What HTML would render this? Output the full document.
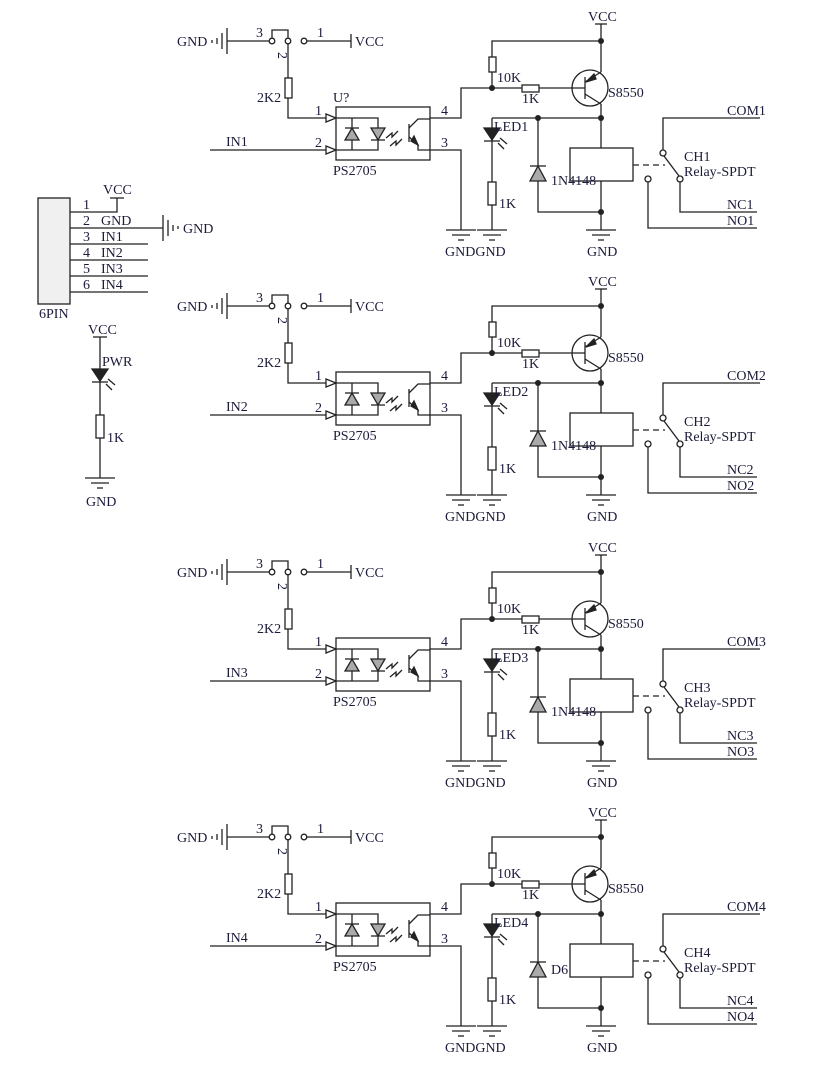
<!DOCTYPE html>
<html><head><meta charset="utf-8"><style>
html,body{margin:0;padding:0;background:#fff}
svg{display:block}
text{font-family:"Liberation Serif",serif;font-size:14px;fill:#1b1b3a}
</style></head><body>
<svg width="825" height="1084" viewBox="0 0 825 1084" xmlns="http://www.w3.org/2000/svg">
<defs>
<g id="gnd">
<line x1="-15" y1="0" x2="15" y2="0"/><line x1="-9" y1="5" x2="9" y2="5"/><line x1="-3" y1="10" x2="3" y2="10"/>
</g>
<g id="ch" stroke="#222" stroke-width="1.3" fill="none">
<line x1="227" y1="28" x2="227" y2="54"/><line x1="222" y1="33" x2="222" y2="49"/><line x1="217" y1="38" x2="217" y2="44"/>
<line x1="212" y1="40" x2="212" y2="43"/>
<line x1="227" y1="41" x2="269" y2="41"/>
<circle cx="272" cy="41" r="2.8"/><circle cx="288" cy="41" r="2.8"/><circle cx="304" cy="41" r="2.8"/>
<polyline points="272,38 272,30 288,30 288,38"/>
<line x1="307" y1="41" x2="351" y2="41"/><line x1="351" y1="34" x2="351" y2="48"/>
<line x1="288" y1="44" x2="288" y2="78"/>
<rect x="285" y="78" width="7" height="20" fill="#fff"/>
<polyline points="288,98 288,118 326,118"/>
<polygon points="326,114 336,118 326,122"/>
<line x1="210" y1="150" x2="326" y2="150"/>
<polygon points="326,146 336,150 326,154"/>
<rect x="336" y="107" width="94" height="53"/>
<polyline points="336,118 378,118 378,150 336,150"/>
<line x1="352" y1="118" x2="352" y2="150"/>
<polygon points="345,140 359,140 352,128" fill="#aaa"/><line x1="345" y1="128" x2="359" y2="128"/>
<polygon points="371,128 385,128 378,140" fill="#aaa"/><line x1="371" y1="140" x2="385" y2="140"/>
<polyline points="386,138 392,133 392,137 398,131"/><polyline points="390,146 396,141 396,145 402,139"/>
<line x1="409" y1="124" x2="409" y2="142"/>
<polyline points="409,128 418,119 430,119"/>
<polyline points="409,137 418,145 418,150 430,150"/>
<polygon points="411,141 418,145 414,136" fill="#222"/>
<polyline points="430,118 461,118 461,88 492,88"/>
<polyline points="430,150 461,150 461,230"/>
<line x1="601" y1="24" x2="601" y2="72"/><line x1="595" y1="24" x2="607" y2="24"/>
<polyline points="492,88 492,41 601,41"/>
<rect x="489" y="57" width="7" height="15" fill="#fff"/>
<line x1="492" y1="88" x2="522" y2="88"/><rect x="522" y="85" width="17" height="7" fill="#fff"/><line x1="539" y1="88" x2="585" y2="88"/>
<circle cx="590" cy="88" r="18"/>
<line x1="585" y1="77" x2="585" y2="99"/>
<line x1="585" y1="82" x2="601" y2="72"/><line x1="585" y1="94" x2="601" y2="104"/>
<polygon points="586,82 594,74 596,79" fill="#222"/>
<line x1="601" y1="104" x2="601" y2="148"/>
<line x1="492" y1="118" x2="601" y2="118"/>
<line x1="492" y1="118" x2="492" y2="182"/>
<polygon points="484,128 500,128 492,140" fill="#222"/><line x1="484" y1="141" x2="500" y2="141"/>
<line x1="498" y1="143" x2="504" y2="149"/><line x1="500" y1="138" x2="507" y2="144"/>
<rect x="488" y="182" width="8" height="23" fill="#fff"/>
<line x1="492" y1="205" x2="492" y2="230"/>
<polyline points="538,118 538,212 601,212"/>
<polygon points="530,181 546,181 538,166" fill="#aaa"/><line x1="530" y1="166" x2="546" y2="166"/>
<rect x="570" y="148" width="63" height="33"/>
<line x1="601" y1="181" x2="601" y2="230"/>
<line x1="633" y1="165" x2="665" y2="165" stroke-dasharray="6,4"/>
<circle cx="663" cy="153" r="3"/><circle cx="680" cy="179" r="3"/><circle cx="648" cy="179" r="3"/>
<line x1="664" y1="156" x2="679" y2="176"/>
<polyline points="663,150 663,118 760,118"/>
<polyline points="680,182 680,212 757,212"/>
<polyline points="648,182 648,228 757,228"/>
<use href="#gnd" x="461" y="230"/><use href="#gnd" x="492" y="230"/><use href="#gnd" x="601" y="230"/>
</g>
<g id="dots" fill="#222">
<circle cx="601" cy="41" r="3"/><circle cx="492" cy="88" r="3"/><circle cx="601" cy="118" r="3"/><circle cx="538" cy="118" r="3"/><circle cx="601" cy="212" r="3"/>
</g>
</defs>

<use href="#ch" y="0"/><use href="#dots" y="0"/>
<use href="#ch" y="265"/><use href="#dots" y="265"/>
<use href="#ch" y="531"/><use href="#dots" y="531"/>
<use href="#ch" y="796"/><use href="#dots" y="796"/>

<g>
<text x="177" y="46">GND</text><text x="256" y="37">3</text><text x="317" y="37">1</text><text x="355" y="46">VCC</text>
<text x="0" y="0" transform="translate(278,52) rotate(90)" font-size="11">2</text>
<text x="257" y="102">2K2</text><text x="315" y="115">1</text><text x="315" y="147">2</text>
<text x="226" y="146">IN1</text><text x="333" y="102">U?</text><text x="333" y="175">PS2705</text>
<text x="441" y="115">4</text><text x="441" y="147">3</text>
<text x="588" y="21">VCC</text><text x="497" y="82">10K</text><text x="522" y="103">1K</text><text x="608" y="97">S8550</text>
<text x="494" y="131">LED1</text><text x="499" y="208">1K</text><text x="551" y="185">1N4148</text>
<text x="727" y="115">COM1</text><text x="684" y="161">CH1</text><text x="684" y="176">Relay-SPDT</text>
<text x="727" y="209">NC1</text><text x="727" y="225">NO1</text>
<text x="445" y="256">GNDGND</text><text x="587" y="256">GND</text>
</g>
<g transform="translate(0,265)">
<text x="177" y="46">GND</text><text x="256" y="37">3</text><text x="317" y="37">1</text><text x="355" y="46">VCC</text>
<text x="0" y="0" transform="translate(278,52) rotate(90)" font-size="11">2</text>
<text x="257" y="102">2K2</text><text x="315" y="115">1</text><text x="315" y="147">2</text>
<text x="226" y="146">IN2</text><text x="333" y="175">PS2705</text>
<text x="441" y="115">4</text><text x="441" y="147">3</text>
<text x="588" y="21">VCC</text><text x="497" y="82">10K</text><text x="522" y="103">1K</text><text x="608" y="97">S8550</text>
<text x="494" y="131">LED2</text><text x="499" y="208">1K</text><text x="551" y="185">1N4148</text>
<text x="727" y="115">COM2</text><text x="684" y="161">CH2</text><text x="684" y="176">Relay-SPDT</text>
<text x="727" y="209">NC2</text><text x="727" y="225">NO2</text>
<text x="445" y="256">GNDGND</text><text x="587" y="256">GND</text>
</g>
<g transform="translate(0,531)">
<text x="177" y="46">GND</text><text x="256" y="37">3</text><text x="317" y="37">1</text><text x="355" y="46">VCC</text>
<text x="0" y="0" transform="translate(278,52) rotate(90)" font-size="11">2</text>
<text x="257" y="102">2K2</text><text x="315" y="115">1</text><text x="315" y="147">2</text>
<text x="226" y="146">IN3</text><text x="333" y="175">PS2705</text>
<text x="441" y="115">4</text><text x="441" y="147">3</text>
<text x="588" y="21">VCC</text><text x="497" y="82">10K</text><text x="522" y="103">1K</text><text x="608" y="97">S8550</text>
<text x="494" y="131">LED3</text><text x="499" y="208">1K</text><text x="551" y="185">1N4148</text>
<text x="727" y="115">COM3</text><text x="684" y="161">CH3</text><text x="684" y="176">Relay-SPDT</text>
<text x="727" y="209">NC3</text><text x="727" y="225">NO3</text>
<text x="445" y="256">GNDGND</text><text x="587" y="256">GND</text>
</g>
<g transform="translate(0,796)">
<text x="177" y="46">GND</text><text x="256" y="37">3</text><text x="317" y="37">1</text><text x="355" y="46">VCC</text>
<text x="0" y="0" transform="translate(278,52) rotate(90)" font-size="11">2</text>
<text x="257" y="102">2K2</text><text x="315" y="115">1</text><text x="315" y="147">2</text>
<text x="226" y="146">IN4</text><text x="333" y="175">PS2705</text>
<text x="441" y="115">4</text><text x="441" y="147">3</text>
<text x="588" y="21">VCC</text><text x="497" y="82">10K</text><text x="522" y="103">1K</text><text x="608" y="97">S8550</text>
<text x="494" y="131">LED4</text><text x="499" y="208">1K</text><text x="551" y="178">D6</text>
<text x="727" y="115">COM4</text><text x="684" y="161">CH4</text><text x="684" y="176">Relay-SPDT</text>
<text x="727" y="209">NC4</text><text x="727" y="225">NO4</text>
<text x="445" y="256">GNDGND</text><text x="587" y="256">GND</text>
</g>

<g stroke="#222" stroke-width="1.3" fill="none">
<rect x="38" y="198" width="32" height="106" fill="#f0f0f0"/>
<polyline points="70,212 117,212 117,198"/><line x1="110" y1="198" x2="124" y2="198"/>
<line x1="70" y1="228" x2="163" y2="228"/>
<line x1="163" y1="215" x2="163" y2="241"/><line x1="168" y1="220" x2="168" y2="236"/><line x1="173" y1="225" x2="173" y2="231"/><line x1="178" y1="226" x2="178" y2="229"/>
<line x1="70" y1="244" x2="148" y2="244"/><line x1="70" y1="260" x2="148" y2="260"/>
<line x1="70" y1="276" x2="148" y2="276"/><line x1="70" y1="292" x2="148" y2="292"/>
<line x1="93" y1="337" x2="107" y2="337"/>
<line x1="100" y1="337" x2="100" y2="415"/>
<polygon points="92,369 108,369 100,381" fill="#222"/><line x1="92" y1="382" x2="108" y2="382"/>
<line x1="106" y1="384" x2="112" y2="390"/><line x1="108" y1="379" x2="115" y2="385"/>
<rect x="96" y="415" width="8" height="23" fill="#fff"/>
<line x1="100" y1="438" x2="100" y2="478"/>
<use href="#gnd" x="100" y="478"/>
</g>
<text x="103" y="194">VCC</text>
<text x="83" y="209">1</text>
<text x="83" y="225">2</text><text x="101" y="225">GND</text>
<text x="83" y="241">3</text><text x="101" y="241">IN1</text>
<text x="83" y="257">4</text><text x="101" y="257">IN2</text>
<text x="83" y="273">5</text><text x="101" y="273">IN3</text>
<text x="83" y="289">6</text><text x="101" y="289">IN4</text>
<text x="183" y="233">GND</text>
<text x="39" y="318">6PIN</text>
<text x="88" y="334">VCC</text>
<text x="102" y="366">PWR</text>
<text x="107" y="442">1K</text>
<text x="86" y="506">GND</text>
</svg>
</body></html>
